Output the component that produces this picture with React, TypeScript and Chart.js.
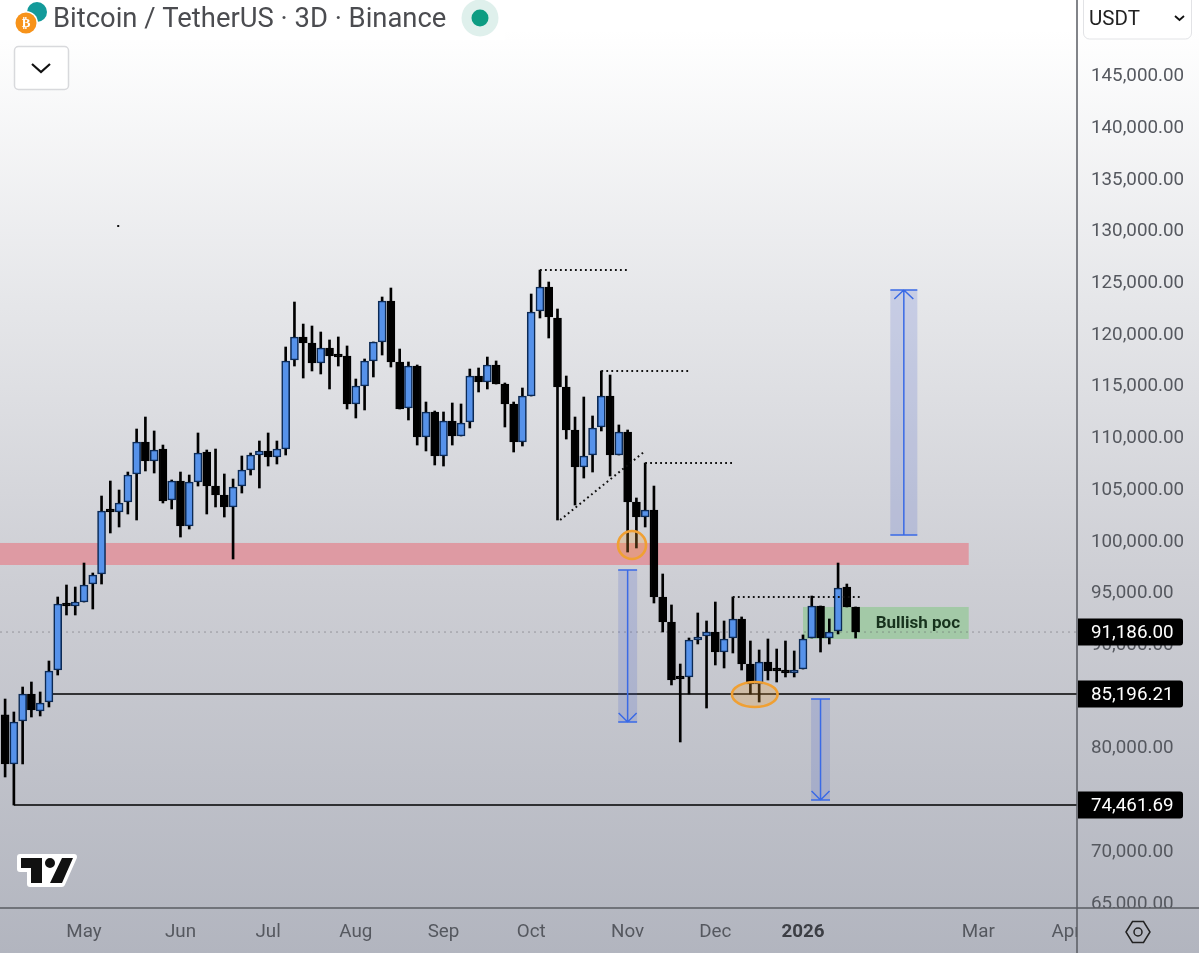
import React, { useEffect, useRef } from "react";
import { Chart, registerables } from "chart.js";

Chart.register(...registerables);

const opens = [83170,78430,82585,85195,83550,84420,87515,93995,93705,94090,95830,96800,102990,102795,103760,106470,109560,107725,108885,103955,105790,101440,105695,108595,105305,104440,103280,105305,106855,108305,108695,108115,108885,117500,119720,119140,117205,118655,117975,117880,113240,114980,117400,119235,123200,117300,112850,116910,110050,112465,108210,111595,110145,111500,115945,115365,117010,115170,113240,109560,114010,122230,124550,121555,114880,110720,107145,108305,111015,114010,108305,110530,103760,102310,102990,94575,92160,86740,86840,90415,90805,91190,89255,90610,92450,88095,86160,88290,87515,87320,87225,87610,90610,93705,90610,91290,95540,93610];
const highs = [84710,83455,85870,86355,85390,88385,94575,95735,95540,97860,96895,104340,105790,104920,106660,110820,111980,110630,109270,105890,106660,106370,110435,108790,108885,106470,105985,108210,108500,109660,110435,109660,118750,123100,120970,120780,120200,119430,119720,118850,115655,117590,119235,123585,124455,118555,117300,117010,113430,112560,112465,113335,113240,116620,116720,117780,117400,115270,113430,114785,123875,126190,125035,122425,115945,111980,113915,112080,116430,116040,111210,110725,104150,107530,105305,96800,93805,88095,90610,93030,92255,94090,92255,94575,92645,90320,89450,90515,89545,90320,89355,90905,94670,93705,92450,97860,95830,93610];
const lows = [77170,74461.69,78430,82970,83070,83940,87030,92835,92835,94090,93415,95830,100765,101345,102600,102020,106760,106565,103665,103085,100375,101150,105305,102600,103280,102310,98250,104630,106370,105115,107240,107435,108305,116910,115750,116430,116140,114690,116910,112755,111885,112660,115850,117975,116815,112755,111690,109270,108695,107340,107240,109270,110145,110920,114400,114690,115170,111015,108595,109175,114010,121555,119620,102020,109850,103470,106080,106660,110630,106275,108305,98925,99315,101345,93995,91190,86070,80555,85195,90030,83840,88000,87710,89160,87515,85195,84420,86550,86355,86840,86840,87610,90610,89255,90030,91000,93610,90610];
const closes = [78430,82490,85195,83650,84325,87420,93900,93705,94090,95735,96700,102890,102795,103665,106370,109560,107725,108790,103860,105790,101440,105695,108500,105305,104440,103280,105210,106855,108305,108695,108115,108885,117400,119720,119140,117205,118655,117880,117780,113240,114980,117400,119235,123200,117300,112755,116910,110050,112465,108210,111595,110145,111400,115945,115365,117010,115170,113240,109560,114010,122130,124550,121650,114880,110720,107145,108210,110920,114010,108305,110530,103760,102310,102990,94575,92160,86550,86645,90415,90705,91190,89255,90515,92450,88095,86160,88290,87420,87420,87225,87515,90515,93705,90610,91190,95445,93610,91186];

const axisTickValues = [65000,70000,75000,80000,85000,90000,95000,100000,105000,110000,115000,120000,125000,130000,135000,140000,145000];
const monthPositions = [9,20,30,40,50,60,71,81,91,111,121];
const monthLabels = ["May","Jun","Jul","Aug","Sep","Oct","Nov","Dec","2026","Mar","Apr"];

const priceTags = [91186.0, 85196.21, 74461.69];
const supportLines = [{ fromIndex: 5.4, price: 85196.21 }, { fromIndex: 1, price: 74461.69 }];
const dottedLevels = [
  { x1: 61, y1: 126190, x2: 70.9, y2: 126190 },
  { x1: 68, y1: 116430, x2: 78, y2: 116430 },
  { x1: 73, y1: 107530, x2: 83, y2: 107530 },
  { x1: 83, y1: 94575, x2: 97.8, y2: 94575 },
  { x1: 63.3, y1: 102020, x2: 73, y2: 108695 },
];
const zoneBands = [
  { x1: -0.6, x2: 109.9, top: 99800, bottom: 97670, color: "#de9aa3" },
  { x1: 91, x2: 109.9, top: 93610, bottom: 90515, color: "#a3c9a7" },
];
const measureArrows = [
  { x: 102.5, halfWidth: 1.54, top: 124262, bottom: 100570, dir: "up" },
  { x: 71, halfWidth: 1.08, top: 97185, bottom: 82490, dir: "down" },
  { x: 93, halfWidth: 1.08, top: 84712, bottom: 74945, dir: "down" },
];
const rings = [
  { x1: 69.9, x2: 73.1, top: 100950, bottom: 98250 },
  { x1: 82.9, x2: 88.1, top: 86355, bottom: 83940 },
];
const strayDot = { x: 12.9, y: 130450 };
const zoneLabel = { text: "Bullish poc", x: 104.1, y: 91960 };
const titleText = "Bitcoin / TetherUS · 3D · Binance";
const currencyText = "USDT";

const BLUE = "#5692ea";
const ROBOTO = "Roboto";
const TICK = "#55585f";
const FONT_PX = 18.8;

const bgGradient = (ctx: any, height: number) => {
  const g = ctx.createLinearGradient(0, 30, 0, height);
  g.addColorStop(0, "#ffffff");
  g.addColorStop(0.3, "#e5e6e9");
  g.addColorStop(0.6, "#cdced4");
  g.addColorStop(1, "#b2b5bf");
  return g;
};

const overlay = {
  id: "overlay",
  beforeDraw(chart: any) {
    const { ctx, width, height } = chart;
    ctx.save();
    ctx.fillStyle = bgGradient(ctx, height);
    ctx.fillRect(0, 0, width, height);
    ctx.restore();
  },
  beforeDatasetsDraw(chart: any) {
    const { ctx, chartArea } = chart;
    const X = (v: number) => chart.scales.x.getPixelForValue(v);
    const Y = (v: number) => chart.scales.y.getPixelForValue(v);
    ctx.save();
    zoneBands.forEach((z) => {
      ctx.fillStyle = z.color;
      const l = Math.max(X(z.x1), 0);
      ctx.fillRect(l, Y(z.top), X(z.x2) - l, Y(z.bottom) - Y(z.top));
    });
    ctx.strokeStyle = "rgba(85,85,90,0.45)";
    ctx.lineWidth = 1;
    ctx.setLineDash([2, 4]);
    ctx.beginPath();
    ctx.moveTo(chartArea.left, Y(priceTags[0]));
    ctx.lineTo(chartArea.right, Y(priceTags[0]));
    ctx.stroke();
    ctx.setLineDash([]);
    ctx.strokeStyle = "#000";
    ctx.lineWidth = 1.6;
    supportLines.forEach((l) => {
      ctx.beginPath();
      ctx.moveTo(X(l.fromIndex), Y(l.price));
      ctx.lineTo(chartArea.right, Y(l.price));
      ctx.stroke();
    });
    ctx.fillStyle = "#17321d";
    ctx.font = `700 17px ${ROBOTO}`;
    ctx.textAlign = "center";
    ctx.textBaseline = "middle";
    ctx.fillText(zoneLabel.text, X(zoneLabel.x), Y(zoneLabel.y));
    ctx.restore();
  },
  afterDatasetsDraw(chart: any) {
    const { ctx } = chart;
    const X = (v: number) => chart.scales.x.getPixelForValue(v);
    const Y = (v: number) => chart.scales.y.getPixelForValue(v);
    ctx.save();
    ctx.strokeStyle = "#111";
    ctx.lineWidth = 2;
    ctx.setLineDash([1.8, 3.2]);
    dottedLevels.forEach((d) => {
      ctx.beginPath();
      ctx.moveTo(X(d.x1), Y(d.y1));
      ctx.lineTo(X(d.x2), Y(d.y2));
      ctx.stroke();
    });
    ctx.setLineDash([]);
    rings.forEach((r) => {
      const cx = (X(r.x1) + X(r.x2)) / 2;
      const cy = (Y(r.top) + Y(r.bottom)) / 2;
      ctx.beginPath();
      ctx.ellipse(cx, cy, (X(r.x2) - X(r.x1)) / 2, (Y(r.bottom) - Y(r.top)) / 2, 0, 0, Math.PI * 2);
      ctx.fillStyle = "rgba(240,160,50,0.25)";
      ctx.fill();
      ctx.strokeStyle = "#f0a033";
      ctx.lineWidth = 2.6;
      ctx.stroke();
    });
    measureArrows.forEach((a) => {
      const cx = X(a.x);
      const l = X(a.x - a.halfWidth);
      const r = X(a.x + a.halfWidth);
      const t = Y(a.top);
      const b = Y(a.bottom);
      ctx.fillStyle = "rgba(60,90,205,0.18)";
      ctx.fillRect(l, t, r - l, b - t);
      ctx.strokeStyle = "#3a6ae6";
      ctx.lineWidth = 1.5;
      ctx.beginPath();
      ctx.moveTo(l, t);
      ctx.lineTo(r, t);
      ctx.moveTo(l, b);
      ctx.lineTo(r, b);
      ctx.moveTo(cx, t);
      ctx.lineTo(cx, b);
      const tip = a.dir === "up" ? t : b;
      const s = a.dir === "up" ? 1 : -1;
      const hw = a.dir === "up" ? 9.5 : 9;
      ctx.moveTo(cx - hw, tip + s * 9);
      ctx.lineTo(cx, tip);
      ctx.lineTo(cx + hw, tip + s * 9);
      ctx.stroke();
    });
    ctx.fillStyle = "#111";
    ctx.fillRect(X(strayDot.x) - 1, Y(strayDot.y) - 1, 2, 2);
    ctx.restore();
  },
  afterDraw(chart: any) {
    const { ctx, chartArea, height, width } = chart;
    const Y = (v: number) => chart.scales.y.getPixelForValue(v);
    const right = chartArea.right;
    const bottom = chartArea.bottom;
    ctx.save();

    // price-scale corner hides clipped tick text
    ctx.fillStyle = bgGradient(ctx, height);
    ctx.fillRect(right, bottom, width - right, height - bottom);

    // frame lines
    ctx.strokeStyle = "#5a5c63";
    ctx.lineWidth = 1.5;
    ctx.beginPath();
    ctx.moveTo(right, 0);
    ctx.lineTo(right, height);
    ctx.moveTo(0, bottom);
    ctx.lineTo(width, bottom);
    ctx.stroke();

    // price tags
    priceTags.forEach((p) => {
      const y = Y(p);
      ctx.fillStyle = "#000";
      ctx.beginPath();
      ctx.roundRect(right + 1, y - 13.5, 105, 27, [0, 3, 3, 0]);
      ctx.fill();
      ctx.fillStyle = "#fff";
      ctx.font = `400 ${FONT_PX}px ${ROBOTO}`;
      ctx.textAlign = "left";
      ctx.textBaseline = "middle";
      ctx.fillText(p.toLocaleString("en-US", { minimumFractionDigits: 2, maximumFractionDigits: 2 }), right + 14, y + 1);
    });

    // header
    ctx.fillStyle = "rgba(255,255,255,0.9)";
    ctx.fillRect(0, 0, 505, 40);
    ctx.fillStyle = "#139a9a";
    ctx.beginPath();
    ctx.arc(37, 12, 10, 0, Math.PI * 2);
    ctx.fill();
    ctx.fillStyle = "#ffffff";
    ctx.beginPath();
    ctx.arc(26, 23, 12, 0, Math.PI * 2);
    ctx.fill();
    ctx.fillStyle = "#f7931a";
    ctx.beginPath();
    ctx.arc(26, 23, 10.5, 0, Math.PI * 2);
    ctx.fill();
    ctx.fillStyle = "#fff";
    ctx.font = `700 13px "DejaVu Sans"`;
    ctx.textAlign = "center";
    ctx.textBaseline = "middle";
    ctx.fillText("₿", 26, 23.5);
    ctx.fillStyle = "#4b4c50";
    ctx.font = `400 27.4px ${ROBOTO}`;
    ctx.textAlign = "left";
    ctx.fillText(titleText, 53, 20.5);
    ctx.fillStyle = "#dff0ec";
    ctx.beginPath();
    ctx.arc(480, 18, 18.5, 0, Math.PI * 2);
    ctx.fill();
    ctx.fillStyle = "#0d9c82";
    ctx.beginPath();
    ctx.arc(480, 18, 8.5, 0, Math.PI * 2);
    ctx.fill();

    // collapse button
    ctx.fillStyle = "#fff";
    ctx.strokeStyle = "#d8d9dc";
    ctx.lineWidth = 1.5;
    ctx.beginPath();
    ctx.roundRect(14.5, 46.5, 54, 43, 4);
    ctx.fill();
    ctx.stroke();
    ctx.strokeStyle = "#111";
    ctx.lineWidth = 2.2;
    ctx.beginPath();
    ctx.moveTo(32, 64);
    ctx.lineTo(41, 72);
    ctx.lineTo(50, 64);
    ctx.stroke();

    // currency box
    ctx.fillStyle = "#fff";
    ctx.strokeStyle = "#e2e3e6";
    ctx.lineWidth = 1;
    ctx.beginPath();
    ctx.roundRect(1083.5, -6, 108, 45, 6);
    ctx.fill();
    ctx.stroke();
    ctx.fillStyle = "#222";
    ctx.font = `400 20.5px ${ROBOTO}`;
    ctx.textAlign = "left";
    ctx.textBaseline = "middle";
    ctx.fillText(currencyText, 1089, 20);
    ctx.strokeStyle = "#111";
    ctx.lineWidth = 1.8;
    ctx.beginPath();
    ctx.moveTo(1175, 16);
    ctx.lineTo(1179.5, 20);
    ctx.lineTo(1184, 16);
    ctx.stroke();

    // logo
    ctx.strokeStyle = "#fff";
    ctx.lineWidth = 6;
    ctx.lineJoin = "round";
    ctx.beginPath();
    ctx.moveTo(20, 857);
    ctx.lineTo(74, 857);
    ctx.lineTo(62, 884);
    ctx.lineTo(30, 884);
    ctx.lineTo(30, 869);
    ctx.lineTo(20, 869);
    ctx.closePath();
    ctx.fillStyle = "#fff";
    ctx.fill();
    ctx.stroke();
    ctx.fillStyle = "#111";
    ctx.beginPath();
    ctx.moveTo(21, 858);
    ctx.lineTo(42, 858);
    ctx.lineTo(42, 883);
    ctx.lineTo(31, 883);
    ctx.lineTo(31, 868);
    ctx.lineTo(21, 868);
    ctx.closePath();
    ctx.moveTo(62, 858);
    ctx.lineTo(73, 858);
    ctx.lineTo(62, 883);
    ctx.lineTo(50, 883);
    ctx.closePath();
    ctx.moveTo(55, 863);
    ctx.arc(50, 863, 5, 0, Math.PI * 2);
    ctx.fill();

    // settings hexagon
    ctx.strokeStyle = "#222";
    ctx.lineWidth = 1.5;
    ctx.lineJoin = "miter";
    ctx.beginPath();
    ctx.moveTo(1126, 932);
    ctx.lineTo(1132.5, 921.5);
    ctx.lineTo(1143.5, 921.5);
    ctx.lineTo(1150, 932);
    ctx.lineTo(1143.5, 942.5);
    ctx.lineTo(1132.5, 942.5);
    ctx.closePath();
    ctx.stroke();
    ctx.beginPath();
    ctx.arc(1138, 932, 4, 0, Math.PI * 2);
    ctx.stroke();
    ctx.restore();
  },
};

export default function App() {
  const ref = useRef<HTMLCanvasElement>(null);
  useEffect(() => {
    const idx = opens.map((_, i) => i);
    const chart = new Chart(ref.current!, {
      type: "bar",
      data: {
        datasets: [
          {
            label: "Wicks",
            data: idx.map((i) => ({ x: i, y: [lows[i], highs[i]] })) as any,
            backgroundColor: "#000",
            borderWidth: 0,
            barThickness: 2,
            grouped: false,
            order: 2,
          },
          {
            label: "Bodies",
            data: idx.map((i) => ({ x: i, y: [opens[i], closes[i]] })) as any,
            backgroundColor: idx.map((i) => (closes[i] >= opens[i] ? BLUE : "#000")),
            borderColor: idx.map((i) => (closes[i] >= opens[i] ? "#0c2a55" : "#000")),
            borderWidth: 1.6,
            borderSkipped: false,
            barThickness: 8,
            minBarLength: 3,
            grouped: false,
            order: 1,
          },
        ],
      },
      options: {
        responsive: false,
        animation: false,
        layout: { padding: 0 },
        plugins: { legend: { display: false }, tooltip: { enabled: false } },
        scales: {
          x: {
            type: "linear",
            offset: false,
            min: -0.582,
            max: 122.25,
            grid: { display: false, drawTicks: false, offset: false },
            border: { display: false },
            afterBuildTicks: (s: any) => {
              s.ticks = monthPositions.map((value) => ({ value }));
            },
            afterFit: (s: any) => {
              s.height = 45;
              s.paddingLeft = 0;
              s.paddingRight = 0;
            },
            ticks: {
              autoSkip: false,
              maxRotation: 0,
              padding: 13,
              color: (c: any) => (c.tick && monthLabels[monthPositions.indexOf(c.tick.value)] === "2026" ? "#3c3e44" : TICK),
              font: (c: any) => ({
                family: ROBOTO,
                size: FONT_PX,
                weight: c.tick && monthLabels[monthPositions.indexOf(c.tick.value)] === "2026" ? 700 : 400,
              }),
              callback: (v: any) => monthLabels[monthPositions.indexOf(Number(v))] ?? "",
            },
          },
          y: {
            type: "linear",
            position: "right",
            min: 64501,
            max: 152305,
            grid: { display: false, drawTicks: false },
            border: { display: false },
            afterBuildTicks: (s: any) => {
              s.ticks = axisTickValues.map((value) => ({ value }));
            },
            afterFit: (s: any) => {
              s.width = 122;
              s.paddingTop = 0;
              s.paddingBottom = 0;
            },
            ticks: {
              padding: 14,
              labelOffset: 1,
              color: TICK,
              font: { family: ROBOTO, size: FONT_PX },
              callback: (v: any) => Number(v).toLocaleString("en-US", { minimumFractionDigits: 2, maximumFractionDigits: 2 }),
            },
          },
        },
      },
      plugins: [overlay],
    } as any);
    return () => chart.destroy();
  }, []);
  return (
    <div style={{ position: "fixed", left: 0, top: 0 }}>
      <canvas ref={ref} width={1199} height={953} style={{ display: "block" }} />
    </div>
  );
}
